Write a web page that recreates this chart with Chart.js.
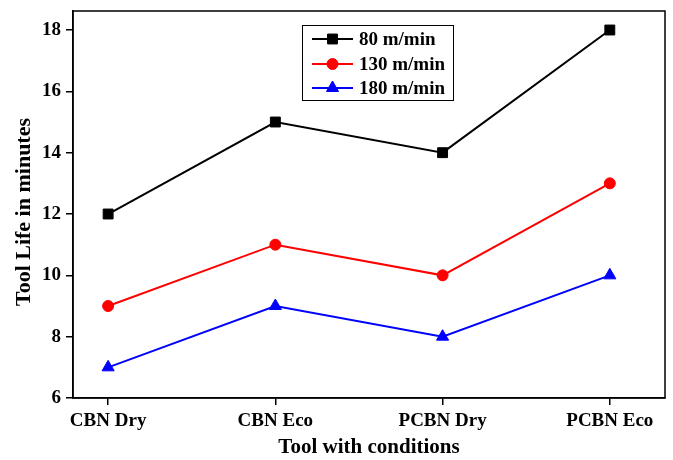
<!DOCTYPE html>
<html>
<head>
<meta charset="utf-8">
<script src="https://cdn.jsdelivr.net/npm/chart.js@4/dist/chart.umd.min.js"></script>
<style>
html,body{margin:0;padding:0;background:#fff;}
#wrap{width:673px;height:460px;}
</style>
</head>
<body>
<div id="wrap"><canvas id="c" width="673" height="460"></canvas></div>
<script>
const categories = ["CBN Dry", "CBN Eco", "PCBN Dry", "PCBN Eco"];
const seriesNames = ["80 m/min", "130 m/min", "180 m/min"];
const speed80 = [12, 15, 14, 18];
const speed130 = [9, 11, 10, 13];
const speed180 = [7, 9, 8, 10];
const yTicks = [6, 8, 10, 12, 14, 16, 18];
const xTitle = "Tool with conditions";
const yTitle = "Tool Life in minutes";

const FONT = "'Liberation Serif', 'Times New Roman', serif";

function pts(arr){ return arr.map((v,i)=>({x:i, y:v})); }

const datasets = [
  {label: seriesNames[0], data: pts(speed80), borderColor:'#000', backgroundColor:'#000', pointStyle:'rect', pointRadius:7, borderWidth:2},
  {label: seriesNames[1], data: pts(speed130), borderColor:'#ff0000', backgroundColor:'#ff0000', pointStyle:'circle', pointRadius:5.5, borderWidth:2},
  {label: seriesNames[2], data: pts(speed180), borderColor:'#0000ff', backgroundColor:'#0000ff', pointStyle:'triangle', pointRadius:7, borderWidth:2}
];
datasets.forEach(d=>{ d.pointBorderWidth=1; d.pointBorderColor=d.borderColor; d.pointBackgroundColor=d.backgroundColor; d.tension=0; d.fill=false; });

const framePlugin = {
  id:'frame',
  afterDraw(chart){
    const {ctx, chartArea:a} = chart;
    ctx.save();
    ctx.strokeStyle='#000'; ctx.lineWidth=1.5;
    ctx.strokeRect(a.left, a.top, a.right-a.left, a.bottom-a.top);
    // y title
    ctx.save();
    ctx.translate(24, 212);
    ctx.rotate(-Math.PI/2);
    ctx.font = "bold 22px " + FONT;
    ctx.fillStyle = '#000';
    ctx.textAlign = 'center';
    ctx.textBaseline = 'middle';
    ctx.fillText(yTitle, 0, 0);
    ctx.restore();
    // legend
    const bx=302, by=25, bw=151, bh=75;
    ctx.lineWidth=1;
    ctx.strokeRect(bx+0.5, by+0.5, bw, bh);
    const rows=[39,64,88];
    ctx.font = "bold 19px " + FONT;
    ctx.textBaseline='middle';
    ctx.textAlign='left';
    chart.data.datasets.forEach((ds,i)=>{
      const y=rows[i];
      ctx.strokeStyle=ds.borderColor; ctx.lineWidth=2;
      ctx.beginPath(); ctx.moveTo(312,y); ctx.lineTo(353,y); ctx.stroke();
      ctx.fillStyle=ds.borderColor; ctx.strokeStyle=ds.borderColor; ctx.lineWidth=1;
      Chart.helpers.drawPoint(ctx, {pointStyle:ds.pointStyle, radius:ds.pointRadius, borderWidth:1, rotation:0}, 332.5, y);
      ctx.fillStyle='#000';
      ctx.fillText(ds.label, 359, y+1);
    });
    ctx.restore();
  }
};

new Chart(document.getElementById('c'), {
  type:'line',
  data:{datasets},
  options:{
    responsive:false,
    animation:false,
    devicePixelRatio:1,
    layout:{padding:{left:0, top:11, right:5, bottom:0}},
    plugins:{legend:{display:false}, tooltip:{enabled:false}},
    scales:{
      x:{
        type:'linear', min:-0.21, max:3.33,
        afterBuildTicks(s){ s.ticks = categories.map((c,i)=>({value:i})); },
        afterFit(s){ s.height = 62; s.paddingLeft = 0; s.paddingRight = 0; },
        ticks:{ callback:(v)=>categories[v] ?? '', color:'#000', font:{family:FONT, size:19, weight:'bold'}, padding:5, maxRotation:0, autoSkip:false },
        grid:{ display:true, drawOnChartArea:false, tickLength:7, color:'#000', lineWidth:1.5 },
        border:{ display:true, color:'#000', width:1.5 },
        title:{ display:true, text:xTitle, color:'#000', font:{family:FONT, size:21, weight:'bold'}, padding:{top:0, bottom:0} }
      },
      y:{
        type:'linear', min:6, max:18.62,
        afterBuildTicks(s){ s.ticks = yTicks.map(v=>({value:v})); },
        afterFit(s){ s.width = 73; s.paddingTop = 0; s.paddingBottom = 0; },
        ticks:{ color:'#000', font:{family:FONT, size:19, weight:'bold'}, padding:5 },
        grid:{ display:true, drawOnChartArea:false, tickLength:7, color:'#000', lineWidth:1.5 },
        border:{ display:true, color:'#000', width:1.5 },
        title:{ display:false }
      }
    }
  },
  plugins:[framePlugin]
});
</script>
</body>
</html>
